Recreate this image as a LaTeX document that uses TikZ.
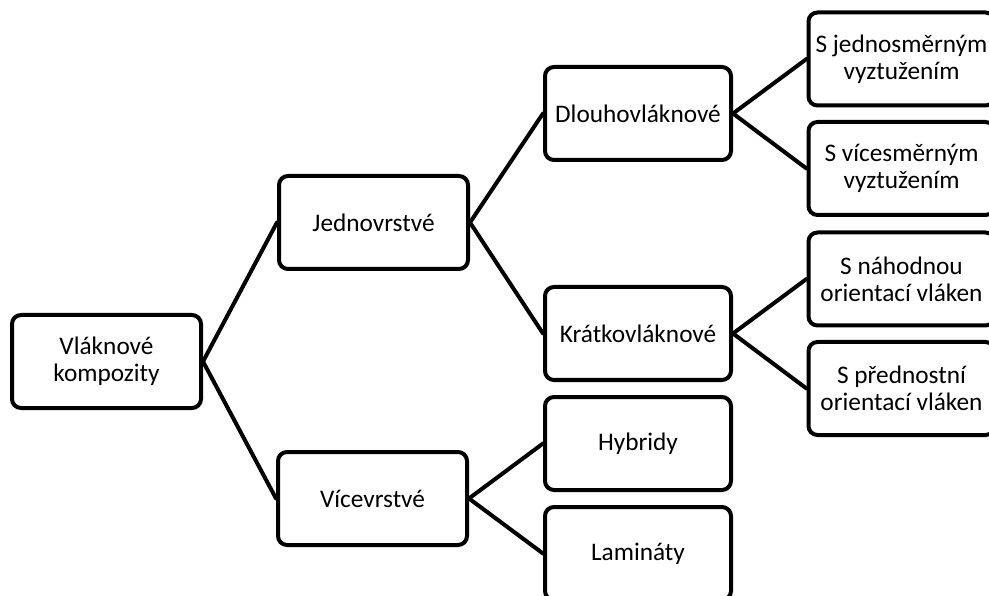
\documentclass[tikz,border=0pt]{standalone}
\usepackage{fontspec}
\setmainfont{Carlito}
\begin{document}
\begin{tikzpicture}[x=1pt,y=-1pt,
  box/.style={draw=black, line width=4pt, rounded corners=9pt, fill=white,
    minimum width=189pt, minimum height=93pt, inner sep=0pt, align=center,
    font=\fontsize{25.3}{27}\selectfont},
  link/.style={draw=black, line width=4pt, line cap=round}]
\useasboundingbox (0,0) rectangle (989,596);
\clip (0,0) rectangle (989,596);
\fill[white] (0,0) rectangle (989,596);
\node[box] (root) at (106.5,361.5) {Vláknové\\kompozity};
\node[box] (jed) at (373.5,222.5) {Jednovrstvé};
\node[box] (vic) at (372.5,498.5) {Vícevrstvé};
\node[box, minimum width=186pt] (dl) at (638,113.5) {Dlouhovláknové};
\node[box, minimum width=186pt] (kr) at (638,333.5) {Krátkovláknové};
\node[box, minimum width=186pt] (hy) at (638,443.5) {Hybridy};
\node[box, minimum width=186pt] (la) at (638,553.5) {Lamináty};
\node[box, minimum width=186pt] (r1) at (901.5,59) {S jednosměrným\\vyztužením};
\node[box, minimum width=186pt] (r2) at (901.5,168.5) {S vícesměrným\\vyztužením};
\node[box, minimum width=186pt] (r3) at (901.5,279) {S náhodnou\\orientací vláken};
\node[box, minimum width=186pt] (r4) at (901.5,388.5) {S přednostní\\orientací vláken};
\draw[link] (root.east) -- (jed.west);
\draw[link] (root.east) -- (vic.west);
\draw[link] (jed.east) -- (dl.west);
\draw[link] (jed.east) -- (kr.west);
\draw[link] (vic.east) -- (hy.west);
\draw[link] (vic.east) -- (la.west);
\draw[link] (dl.east) -- (r1.west);
\draw[link] (dl.east) -- (r2.west);
\draw[link] (kr.east) -- (r3.west);
\draw[link] (kr.east) -- (r4.west);
\end{tikzpicture}
\end{document}
